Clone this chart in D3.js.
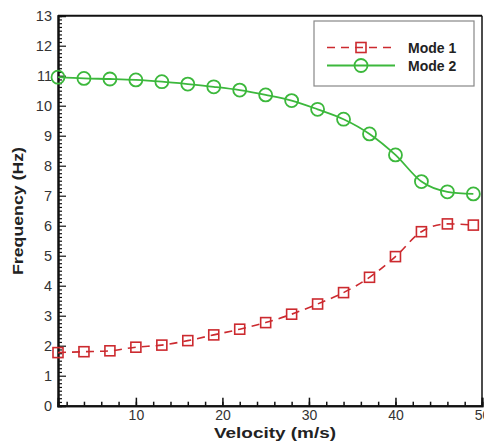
<!DOCTYPE html>
<html><head><meta charset="utf-8">
<script src="https://cdn.jsdelivr.net/npm/d3@7"></script>
<style>body{margin:0;background:#fff}svg{display:block}</style>
</head><body>
<script>
const velocity = [1,4,7,10,13,16,19,22,25,28,31,34,37,40,43,46,49];
const mode1 = [1.77,1.80,1.83,1.95,2.02,2.17,2.36,2.55,2.77,3.05,3.39,3.77,4.28,4.97,5.80,6.06,6.02];
const mode2 = [10.95,10.91,10.89,10.86,10.80,10.72,10.63,10.52,10.36,10.17,9.88,9.55,9.06,8.36,7.47,7.13,7.06];
const xTicks = [10,20,30,40,50];
const yTicks = [0,1,2,3,4,5,6,7,8,9,10,11,12,13];
const seriesNames = ["Mode 1","Mode 2"];

const W=484,H=441;
const svg=d3.select("body").append("svg").attr("width",W).attr("height",H);
const x=d3.scaleLinear().domain([1,50]).range([58,482]);
const y=d3.scaleLinear().domain([0,13]).range([405.7,15.7]);
const red="#cc2a2f", green="#3cb83c";
const font="Liberation Sans, Arial, sans-serif";

// frame top/right
svg.append("line").attr("x1",x(1)).attr("x2",x(50)).attr("y1",y(13)).attr("y2",y(13)).attr("stroke","#111").attr("stroke-width",2);
svg.append("line").attr("x1",x(50)).attr("x2",x(50)).attr("y1",y(13)).attr("y2",y(0)).attr("stroke","#111").attr("stroke-width",1.5);

// x axis
const gx=svg.append("g").attr("transform",`translate(0,${y(0)})`);
gx.call(d3.axisBottom(x).tickValues(d3.range(2,50,2)).tickSize(-4).tickFormat(""));
gx.append("g").call(d3.axisBottom(x).tickValues(xTicks).tickSize(-8).tickPadding(4).tickFormat(d3.format("d")));
gx.selectAll("path.domain").attr("stroke","#111").attr("stroke-width",2);
gx.selectAll(".tick line").attr("stroke","#111").attr("stroke-width",1.5);
gx.selectAll("text").attr("font-family",font).attr("font-size",14).attr("fill","#333");

// y axis
const gy=svg.append("g").attr("transform",`translate(${x(1)},0)`);
gy.call(d3.axisLeft(y).tickValues(d3.range(0,13.01,0.125).filter(v=>Math.abs(v-Math.round(v))>1e-6)).tickSize(-4).tickFormat(""));
gy.append("g").call(d3.axisLeft(y).tickValues(yTicks).tickSize(-8).tickPadding(6).tickFormat(d3.format("d")));
gy.selectAll("path.domain").attr("stroke","#111").attr("stroke-width",2);
gy.selectAll(".tick line").attr("stroke","#111").attr("stroke-width",1.2);
gy.selectAll("text").attr("font-family",font).attr("font-size",14.5).attr("fill","#333");

// titles
svg.append("text").attr("x",275).attr("y",437.5).attr("text-anchor","middle").attr("font-family",font).attr("font-weight","bold").attr("font-size",15.5)
 .attr("textLength",122).attr("lengthAdjust","spacingAndGlyphs").attr("fill","#222").text("Velocity (m/s)");
svg.append("text").attr("transform","translate(23,211) rotate(-90)").attr("text-anchor","middle").attr("font-family",font).attr("font-weight","bold").attr("font-size",15.5)
 .attr("textLength",128).attr("lengthAdjust","spacingAndGlyphs").attr("fill","#222").text("Frequency (Hz)");

const line=d3.line().x(d=>x(d[0])).y(d=>y(d[1])).curve(d3.curveMonotoneX);
const d1=velocity.map((v,i)=>[v,mode1[i]]);
const d2=velocity.map((v,i)=>[v,mode2[i]]);

svg.append("path").datum(d2).attr("d",line).attr("fill","none").attr("stroke",green).attr("stroke-width",1.8);
svg.append("path").datum(d1).attr("d",line).attr("fill","none").attr("stroke",red).attr("stroke-width",1.6).attr("stroke-dasharray","8,6");

svg.selectAll("circle.m2").data(d2).enter().append("circle").attr("class","m2")
 .attr("cx",d=>x(d[0])).attr("cy",d=>y(d[1])).attr("r",6.5).attr("fill","none").attr("stroke",green).attr("stroke-width",1.8);
svg.selectAll("rect.m1").data(d1).enter().append("rect").attr("class","m1")
 .attr("x",d=>x(d[0])-5).attr("y",d=>y(d[1])-5).attr("width",10).attr("height",10).attr("fill","none").attr("stroke",red).attr("stroke-width",1.6);

// legend
const lg=svg.append("g");
lg.append("rect").attr("x",314).attr("y",21).attr("width",160).attr("height",65).attr("fill","#fff").attr("stroke","#888").attr("stroke-width",1.2);
lg.append("line").attr("x1",327).attr("x2",395).attr("y1",47.5).attr("y2",47.5).attr("stroke",red).attr("stroke-width",1.6).attr("stroke-dasharray","8,6");
lg.append("rect").attr("x",356).attr("y",42.5).attr("width",10).attr("height",10).attr("fill","none").attr("stroke",red).attr("stroke-width",1.6);
lg.append("line").attr("x1",327).attr("x2",395).attr("y1",65.5).attr("y2",65.5).attr("stroke",green).attr("stroke-width",1.8);
lg.append("circle").attr("cx",361).attr("cy",65.5).attr("r",6.5).attr("fill","none").attr("stroke",green).attr("stroke-width",1.8);
lg.selectAll("text.lt").data(seriesNames).enter().append("text").attr("class","lt")
 .attr("x",408).attr("y",(d,i)=>52.5+i*18.5).attr("font-family",font).attr("font-weight","bold").attr("font-size",14).attr("fill","#222").text(d=>d);
</script>
</body></html>
